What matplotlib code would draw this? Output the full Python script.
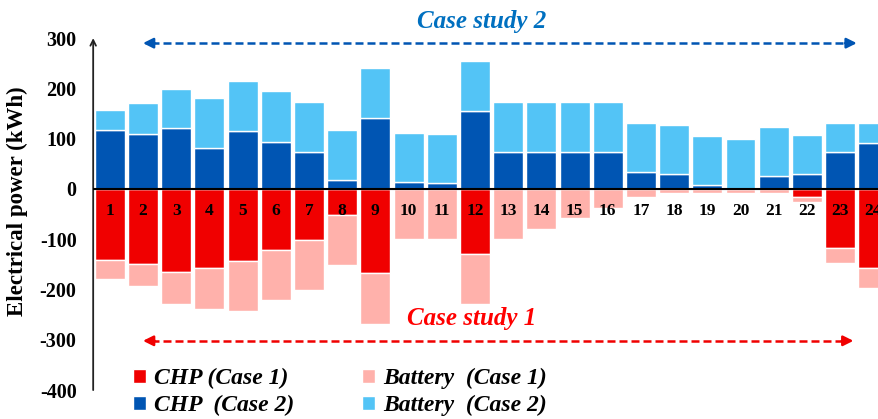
import matplotlib
matplotlib.use("Agg")
import matplotlib.pyplot as plt
import numpy as np

plt.rcParams['font.family'] = ['Liberation Serif', 'DejaVu Serif']
plt.rcParams['axes.unicode_minus'] = False

# hourly electrical power, kWh
hours = list(range(1, 25))
chp_case1 = [141, 150, 166, 158, 143, 121, 101, 51, 167, 0, 0, 129,
             0, 0, 0, 0, 0, 0, 0, 0, 0, 16, 118, 158]
total_case1 = [180, 192, 228, 238, 242, 220, 200, 151, 268, 99, 99, 228,
               99, 79, 58, 37, 16, 9, 9, 9, 9, 26, 147, 197]
chp_case2 = [118, 110, 121, 82, 115, 94, 73, 18, 141, 14, 11, 156,
             73, 73, 73, 73, 34, 29, 8, 0, 25, 29, 73, 92]
total_case2 = [157, 170, 199, 180, 214, 194, 172, 117, 240, 112, 110, 255,
               172, 172, 172, 172, 132, 128, 106, 100, 124, 108, 131, 131]
yticks = [300, 200, 100, 0, -100, -200, -300, -400]

chp1 = np.array(chp_case1)
bat1 = np.array(total_case1) - chp1
chp2 = np.array(chp_case2)
bat2 = np.array(total_case2) - chp2

red = '#f00000'
pink = '#ffb1ab'
dblue = '#0055b3'
lblue = '#53c4f6'

fig = plt.figure(figsize=(8.79, 4.19), dpi=100)
ax = fig.add_axes([0.106, 0.069, 0.894, 0.840])

w = 0.9
b1 = ax.bar(hours, -chp1, w, color=red, edgecolor='white', linewidth=1)
b2 = ax.bar(hours, -bat1, w, bottom=-chp1, color=pink, edgecolor='white', linewidth=1)
b3 = ax.bar(hours, chp2, w, color=dblue, edgecolor='white', linewidth=1)
b4 = ax.bar(hours, bat2, w, bottom=chp2, color=lblue, edgecolor='white', linewidth=1)

ax.axhline(0, color='black', lw=1.5, zorder=4)

# hour numbers just under the zero line
for h in hours:
    ax.text(h, -44, str(h), ha='center', va='center', fontsize=12.5,
            fontweight='bold', zorder=5)

ax.set_xlim(0.5, 24.17)
ax.set_ylim(-400, 300)
ax.set_yticks(yticks)
ax.set_yticklabels([str(v) for v in yticks], fontsize=14.5, fontweight='bold')
ax.tick_params(axis='y', length=0, pad=12)
ax.set_xticks([])
for s in ['top', 'right', 'bottom', 'left']:
    ax.spines[s].set_visible(False)
ax.annotate('', xy=(0, 1.0), xytext=(0, 0), xycoords='axes fraction',
            arrowprops=dict(arrowstyle='->', lw=1.3, color='#222222',
                            shrinkA=0, shrinkB=0))
ax.set_ylabel('Electrical power (kWh)', fontsize=16.5, fontweight='bold')
ax.yaxis.set_label_coords(-0.083, 0.537)


def dashed_span(y, x0, x1, color):
    ax.plot([x0 + 0.25, x1 - 0.25], [y, y], color=color, lw=1.8,
            dashes=(3.2, 1.6), clip_on=False)
    for xa, xb in [(x0 + 0.35, x0), (x1 - 0.35, x1)]:
        ax.annotate('', xy=(xb, y), xytext=(xa, y),
                    arrowprops=dict(arrowstyle='-|>,head_length=0.6,head_width=0.3',
                                    color=color, lw=1.8, shrinkA=0, shrinkB=0),
                    annotation_clip=False)


dashed_span(290, 2.0, 23.5, dblue)
dashed_span(-302, 2.0, 23.4, red)
ax.text(12.2, 333, 'Case study 2', color='#0070c0', fontsize=18,
        fontweight='bold', fontstyle='italic', ha='center', va='center',
        clip_on=False)
ax.text(11.9, -258, 'Case study 1', color='#ff0000', fontsize=18,
        fontweight='bold', fontstyle='italic', ha='center', va='center')

fig.legend([b1, b3, b2, b4],
           ['CHP (Case 1)', 'CHP  (Case 2)', 'Battery  (Case 1)', 'Battery  (Case 2)'],
           ncol=2, loc='upper left', bbox_to_anchor=(0.151, 0.122),
           frameon=False, handlelength=0.55, handleheight=0.55,
           handletextpad=0.35, columnspacing=2.85, labelspacing=0.25,
           borderpad=0, borderaxespad=0,
           prop=dict(family='Liberation Serif', weight='bold', style='italic', size=17))

fig.savefig('out.png', dpi=100)
